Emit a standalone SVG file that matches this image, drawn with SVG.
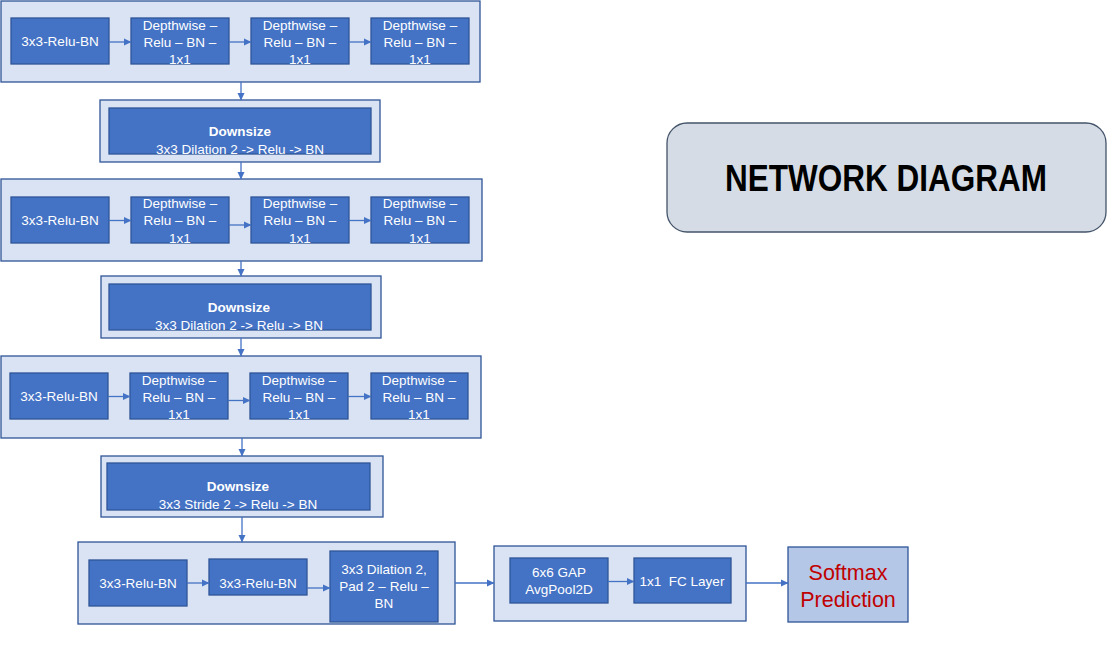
<svg xmlns="http://www.w3.org/2000/svg" width="1118" height="666" viewBox="0 0 1118 666">
<defs>
<marker id="ah" markerWidth="8" markerHeight="8" refX="7" refY="4" orient="auto" markerUnits="userSpaceOnUse">
<path d="M0,0.5 L7.5,4 L0,7.5 Z" fill="#4472c4"/>
</marker>
</defs>
<style>
.outer{fill:#dae3f3;stroke:#2f5597;stroke-width:1.3}
.inner{fill:#4472c4;stroke:#2f5597;stroke-width:1.3}
.t{font-family:"Liberation Sans",Arial,sans-serif;font-size:13.5px;fill:#ffffff;text-anchor:middle}
.b{font-weight:bold}
.c{stroke:#4472c4;stroke-width:1.3;fill:none;marker-end:url(#ah)}
</style>
<rect width="1118" height="666" fill="#ffffff"/>

<g id="block1">
<rect class="outer" x="1" y="1" width="479" height="81"/>
<g id="b1n1"><rect class="inner" x="11" y="18" width="98" height="46"/><text class="t" x="60" y="46">3x3-Relu-BN</text></g>
<g id="b1n2"><rect class="inner" x="131" y="18" width="98" height="46"/><text class="t" x="180" y="30">Depthwise –</text><text class="t" x="180" y="47">Relu – BN –</text><text class="t" x="180" y="64">1x1</text></g>
<g id="b1n3"><rect class="inner" x="251" y="18" width="98" height="46"/><text class="t" x="300" y="30">Depthwise –</text><text class="t" x="300" y="47">Relu – BN –</text><text class="t" x="300" y="64">1x1</text></g>
<g id="b1n4"><rect class="inner" x="371" y="18" width="98" height="46"/><text class="t" x="420" y="30">Depthwise –</text><text class="t" x="420" y="47">Relu – BN –</text><text class="t" x="420" y="64">1x1</text></g>
</g>

<g id="down1">
<rect class="outer" x="100" y="100" width="280" height="62"/>
<rect class="inner" x="109" y="108" width="262" height="46"/>
<text class="t b" x="240" y="136">Downsize</text>
<text class="t" x="240" y="154">3x3 Dilation 2 -&gt; Relu -&gt; BN</text>
</g>

<g id="block2">
<rect class="outer" x="1" y="179" width="481" height="82"/>
<g id="b2n1"><rect class="inner" x="11" y="197" width="98" height="46"/><text class="t" x="60" y="225">3x3-Relu-BN</text></g>
<g id="b2n2"><rect class="inner" x="131" y="197" width="98" height="46"/><text class="t" x="180" y="208">Depthwise –</text><text class="t" x="180" y="225">Relu – BN –</text><text class="t" x="180" y="243">1x1</text></g>
<g id="b2n3"><rect class="inner" x="251" y="197" width="98" height="46"/><text class="t" x="300" y="208">Depthwise –</text><text class="t" x="300" y="225">Relu – BN –</text><text class="t" x="300" y="243">1x1</text></g>
<g id="b2n4"><rect class="inner" x="371" y="197" width="98" height="46"/><text class="t" x="420" y="208">Depthwise –</text><text class="t" x="420" y="225">Relu – BN –</text><text class="t" x="420" y="243">1x1</text></g>
</g>

<g id="down2">
<rect class="outer" x="101" y="276" width="280" height="62"/>
<rect class="inner" x="109" y="284" width="262" height="46"/>
<text class="t b" x="239" y="312">Downsize</text>
<text class="t" x="239" y="330">3x3 Dilation 2 -&gt; Relu -&gt; BN</text>
</g>

<g id="block3">
<rect class="outer" x="1" y="356" width="480" height="82"/>
<g id="b3n1"><rect class="inner" x="10" y="373" width="98" height="46"/><text class="t" x="59" y="401">3x3-Relu-BN</text></g>
<g id="b3n2"><rect class="inner" x="130" y="373" width="98" height="46"/><text class="t" x="179" y="385">Depthwise –</text><text class="t" x="179" y="402">Relu – BN –</text><text class="t" x="179" y="419">1x1</text></g>
<g id="b3n3"><rect class="inner" x="250" y="373" width="98" height="46"/><text class="t" x="299" y="385">Depthwise –</text><text class="t" x="299" y="402">Relu – BN –</text><text class="t" x="299" y="419">1x1</text></g>
<g id="b3n4"><rect class="inner" x="371" y="373" width="97" height="46"/><text class="t" x="419" y="385">Depthwise –</text><text class="t" x="419" y="402">Relu – BN –</text><text class="t" x="419" y="419">1x1</text></g>
</g>

<g id="down3">
<rect class="outer" x="101" y="456" width="282" height="61"/>
<rect class="inner" x="107" y="463" width="263" height="47"/>
<text class="t b" x="238" y="491">Downsize</text>
<text class="t" x="238" y="509">3x3 Stride 2 -&gt; Relu -&gt; BN</text>
</g>

<g id="block4">
<rect class="outer" x="78" y="542" width="377" height="82"/>
<g id="b4n1"><rect class="inner" x="89" y="560" width="98" height="46"/><text class="t" x="138" y="588">3x3-Relu-BN</text></g>
<g id="b4n2"><rect class="inner" x="209" y="559" width="98" height="36"/><text class="t" x="258" y="588">3x3-Relu-BN</text></g>
<g id="b4n3"><rect class="inner" x="330" y="551" width="108" height="71"/><text class="t" x="384" y="574">3x3 Dilation 2,</text><text class="t" x="384" y="591">Pad 2 – Relu –</text><text class="t" x="384" y="608">BN</text></g>
</g>

<g id="block5">
<rect class="outer" x="494" y="546" width="252" height="75"/>
<g id="b5n1"><rect class="inner" x="510" y="558" width="98" height="45"/><text class="t" x="559" y="577">6x6 GAP</text><text class="t" x="559" y="594">AvgPool2D</text></g>
<g id="b5n2"><rect class="inner" x="634" y="558" width="97" height="45"/><text class="t" x="682" y="586" xml:space="preserve">1x1  FC Layer</text></g>
</g>

<g id="softmax">
<rect x="788" y="547" width="120" height="75" fill="#b4c7e7" stroke="#2f5597" stroke-width="1.3"/>
<text x="848" y="580" font-family="'Liberation Sans',Arial,sans-serif" font-size="21.5" fill="#c00000" text-anchor="middle">Softmax</text>
<text x="848" y="607" font-family="'Liberation Sans',Arial,sans-serif" font-size="21.5" fill="#c00000" text-anchor="middle">Prediction</text>
</g>

<g id="title">
<rect x="667" y="123" width="439" height="109" rx="20" fill="#d6dce5" stroke="#44546a" stroke-width="1.3"/>
<text x="886" y="191" font-family="'Liberation Sans',Arial,sans-serif" font-size="36" font-weight="bold" fill="#000000" text-anchor="middle" textLength="322" lengthAdjust="spacingAndGlyphs">NETWORK DIAGRAM</text>
</g>

<g id="connectors">
<line class="c" x1="109" y1="42" x2="131" y2="42"/>
<line class="c" x1="229" y1="42" x2="251" y2="42"/>
<line class="c" x1="349" y1="42" x2="371" y2="42"/>
<line class="c" x1="241" y1="82" x2="241" y2="100"/>
<line class="c" x1="241" y1="162" x2="241" y2="179"/>
<line class="c" x1="109" y1="220.5" x2="131" y2="220.5"/>
<line class="c" x1="229" y1="225" x2="251" y2="225"/>
<line class="c" x1="349" y1="220.5" x2="371" y2="220.5"/>
<line class="c" x1="241" y1="261" x2="241" y2="276"/>
<line class="c" x1="241" y1="338" x2="241" y2="356"/>
<line class="c" x1="108" y1="396.5" x2="130" y2="396.5"/>
<line class="c" x1="228" y1="400.5" x2="250" y2="400.5"/>
<line class="c" x1="348" y1="396.5" x2="371" y2="396.5"/>
<line class="c" x1="242" y1="438" x2="242" y2="456"/>
<line class="c" x1="242" y1="517" x2="242" y2="542"/>
<line class="c" x1="187" y1="583" x2="209" y2="583"/>
<line class="c" x1="307" y1="588" x2="330" y2="588"/>
<line class="c" x1="455" y1="583" x2="494" y2="583"/>
<line class="c" x1="608" y1="581.5" x2="634" y2="581.5"/>
<line class="c" x1="746" y1="583" x2="788" y2="583"/>
</g>
</svg>
